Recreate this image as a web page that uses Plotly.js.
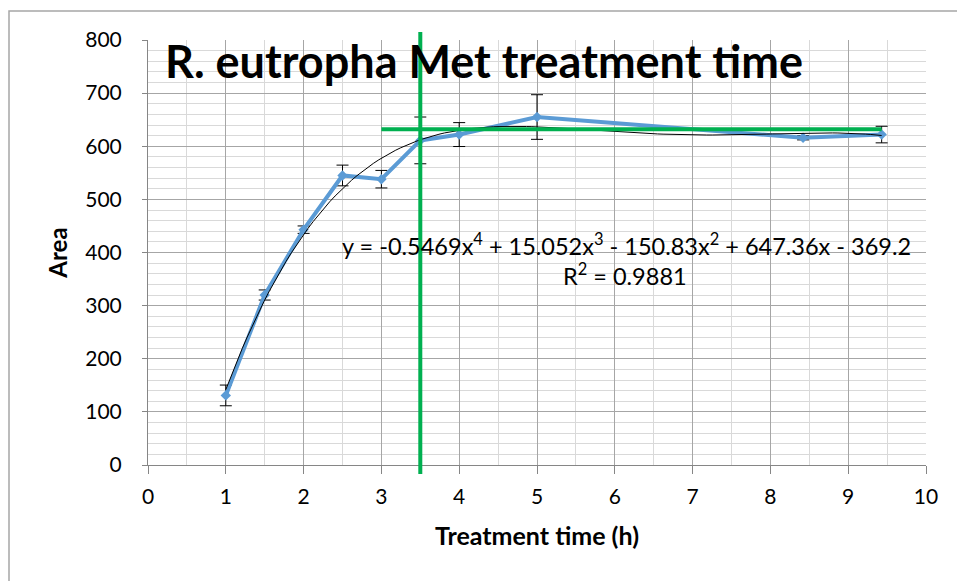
<!DOCTYPE html>
<html>
<head>
<meta charset="utf-8">
<script src="https://cdn.plot.ly/plotly-3.0.1.min.js"></script>
<style>
  html, body { margin: 0; padding: 0; background: #fff; }
  #chart { width: 957px; height: 581px; }
</style>
</head>
<body>
<div id="chart"></div>
<script>
// Data
const treatmentTime = [1, 1.5, 2, 2.5, 3, 3.5, 4, 5, 8.42, 9.43];
const areaValues    = [131, 320, 443, 545, 538, 611, 622, 655, 616, 622];
const areaErrors    = [19.5, 9.5, 7, 19.5, 16.5, 44, 22.5, 42, 4, 15.6];

// Trendline coefficients as printed on the chart (x^4, x^3, x^2, x, const)
const trendCoefs = [-0.5469, 15.052, -150.83, 647.36, -369.2];
const trendLabel = 'y = -0.5469x<sup>4</sup> + 15.052x<sup>3</sup> - 150.83x<sup>2</sup> + 647.36x - 369.2';
const r2Label = 'R<sup>2</sup> = 0.9881';

// Marker lines (green) drawn on the chart
const plateauLevel = 632;
const plateauStart = 3;
const plateauEnd = 9.43;
const thresholdTime = 3.5;

const titleText = 'R. eutropha Met treatment time';
const xTitle = 'Treatment time (h)';
const yTitle = 'Area';

// Sample the printed trendline equation across the data span
const trendX = [];
const trendY = [];
const nSteps = 120;
const xMin = treatmentTime[0], xMax = treatmentTime[treatmentTime.length - 1];
for (let i = 0; i <= nSteps; i++) {
  const x = xMin + (xMax - xMin) * i / nSteps;
  let y = 0;
  for (let k = 0; k < trendCoefs.length; k++) {
    y += trendCoefs[k] * Math.pow(x, trendCoefs.length - 1 - k);
  }
  trendX.push(x);
  trendY.push(y);
}

const FONT = 'Lato, "Open Sans", sans-serif';
const blue = '#5B9BD5';
const green = '#00B050';

const traces = [
  {
    x: treatmentTime, y: areaValues,
    type: 'scatter', mode: 'lines+markers',
    line: { color: blue, width: 4 },
    marker: { symbol: 'diamond', size: 8, color: blue },
    error_y: { type: 'data', array: areaErrors, visible: true, color: '#000', thickness: 1, width: 6 },
    hoverinfo: 'x+y', showlegend: false
  },
  {
    x: trendX, y: trendY,
    type: 'scatter', mode: 'lines',
    line: { color: '#000', width: 1 },
    hoverinfo: 'skip', showlegend: false
  },
  {
    x: [plateauStart, plateauEnd], y: [plateauLevel, plateauLevel],
    type: 'scatter', mode: 'lines',
    line: { color: green, width: 4 },
    hoverinfo: 'skip', showlegend: false, cliponaxis: false
  }
];

// plot area: left 148, right 926, top 40, bottom 465 (pixels)
const L = 148, R = 926, T = 40, B = 465;
const W = 957, H = 581;
const px2paperX = p => (p - L) / (R - L);
const px2paperY = p => (B - p) / (B - T);

const layout = {
  width: W, height: H,
  margin: { l: L, r: W - R, t: T, b: H - B },
  paper_bgcolor: '#fff', plot_bgcolor: '#fff',
  font: { family: FONT, color: '#000', size: 21 },
  title: {
    text: '<b>' + titleText + '</b>',
    font: { family: FONT, size: 45, color: '#000' },
    x: 165 / W, xanchor: 'left', xref: 'container',
    y: 1 - 62 / H, yanchor: 'middle', yref: 'container'
  },
  xaxis: {
    range: [0, 10], dtick: 1, tick0: 0,
    showgrid: true, gridcolor: '#a6a6a6', gridwidth: 1,
    minor: { dtick: 0.5, showgrid: true, gridcolor: '#d9d9d9', gridwidth: 1 },
    showline: true, linecolor: '#868686', linewidth: 1,
    ticks: 'outside', ticklen: 8, tickcolor: '#868686',
    zeroline: false, mirror: false,
    tickfont: { family: FONT, size: 21, color: '#000' },
    ticklabelstandoff: 5,
    title: { text: '<b>' + xTitle + '</b>', font: { family: FONT, size: 25, color: '#000' }, standoff: 20 }
  },
  yaxis: {
    range: [0, 800], dtick: 100, tick0: 0,
    showgrid: true, gridcolor: '#a6a6a6', gridwidth: 1,
    minor: { dtick: 20, showgrid: true, gridcolor: '#d9d9d9', gridwidth: 1 },
    showline: true, linecolor: '#868686', linewidth: 1,
    ticks: 'outside', ticklen: 5, tickcolor: '#868686',
    zeroline: false,
    tickfont: { family: FONT, size: 21, color: '#000' },
    ticklabelstandoff: 16,
    title: { text: '<b>' + yTitle + '</b>', font: { family: FONT, size: 24, color: '#000' }, standoff: 10 }
  },
  shapes: [
    { // chart outer border
      type: 'rect', xref: 'paper', yref: 'paper',
      x0: px2paperX(9), x1: px2paperX(970), y0: px2paperY(600), y1: px2paperY(11),
      line: { color: '#a6a6a6', width: 1.5 }, fillcolor: 'rgba(0,0,0,0)', layer: 'below'
    },
    { // vertical green marker line
      type: 'line', xref: 'x', yref: 'paper',
      x0: thresholdTime, x1: thresholdTime, y0: px2paperY(474), y1: px2paperY(32),
      line: { color: green, width: 4 }, layer: 'above'
    }
  ],
  annotations: [
    { text: trendLabel, xref: 'paper', yref: 'paper',
      x: px2paperX(626), y: px2paperY(245), xanchor: 'center', yanchor: 'middle',
      showarrow: false, font: { family: FONT, size: 23.5, color: '#000' } },
    { text: r2Label, xref: 'paper', yref: 'paper',
      x: px2paperX(625), y: px2paperY(274), xanchor: 'center', yanchor: 'middle',
      showarrow: false, font: { family: FONT, size: 23.5, color: '#000' } }
  ]
};

Plotly.newPlot('chart', traces, layout, { displayModeBar: false, staticPlot: true });
</script>
</body>
</html>
